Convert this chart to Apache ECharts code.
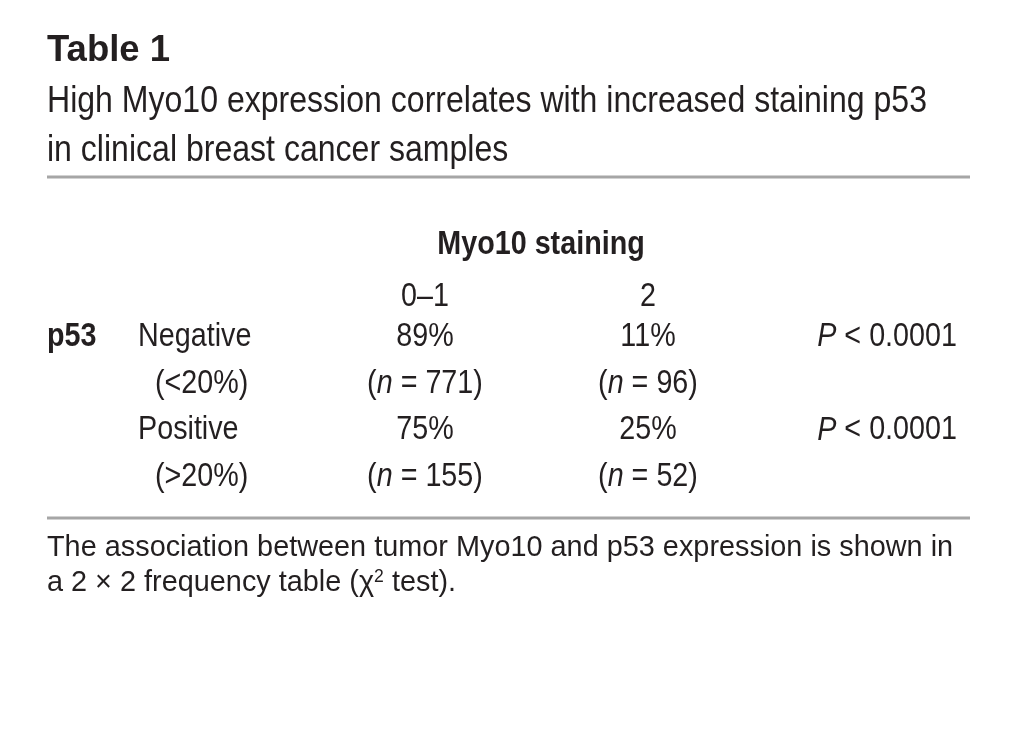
<!DOCTYPE html>
<html><head><meta charset="utf-8">
<script src="https://cdn.jsdelivr.net/npm/echarts@6/dist/echarts.min.js"></script>
<style>html,body{margin:0;padding:0;background:#fff}#c{width:1018px;height:729px}</style>
</head><body><div id="c"></div>
<script>
// ---- data ----
const tableTitle = 'Table 1';
const subtitleLines = ['High Myo10 expression correlates with increased staining p53', 'in clinical breast cancer samples'];
const columnGroup = 'Myo10 staining';
const columnKeys = ['label', '0–1', '2', 'P'];
const columnHeaders = ['', '0–1', '2', ''];
const rowGroup = 'p53';
const rowKeys = ['neg', 'negRange', 'pos', 'posRange'];
const rowLabels = ['Negative', '(<20%)', 'Positive', '(>20%)'];
const pctLow = [89, 75];     // Myo10 0–1
const pctHigh = [11, 25];    // Myo10 2
const nLow = [771, 155];
const nHigh = [96, 52];
const pValues = ['0.0001', '0.0001'];
const footnoteLines = ['The association between tumor Myo10 and p53 expression is shown in', 'a 2 × 2 frequency table ({chi|χ}{sup|2} test).'];

// ---- layout / style ----
const SANS = "'Liberation Sans',Arial,Helvetica,sans-serif";
const INK = '#231f20';
const BODY = 34, SX = 0.845;          // condensed look: horizontal squeeze
const ruleColor = '#a6a6a6';
const font = (w, s, f) => (w ? w + ' ' : '') + s + 'px ' + (f || SANS);

// build cell records from the data arrays: [colIndex, rowIndex, text, kind]
const cells = [];
columnHeaders.forEach((h, c) => { if (h) cells.push([c, 0, h, 'header']); });
cells.push([0, 0, rowGroup, 'group']);
rowLabels.forEach((r, i) => cells.push([0, i, r, i % 2 ? 'sub' : 'row']));
for (let g = 0; g < 2; g++) {
  cells.push([1, 2 * g, pctLow[g] + '%', 'cell']);
  cells.push([1, 2 * g + 1, '({i|n} = ' + nLow[g] + ')', 'cell']);
  cells.push([2, 2 * g, pctHigh[g] + '%', 'cell']);
  cells.push([2, 2 * g + 1, '({i|n} = ' + nHigh[g] + ')', 'cell']);
  cells.push([3, 2 * g, '{i|P} < ' + pValues[g], 'p']);
}

const rich = { i: { font: 'italic ' + BODY + 'px ' + SANS, fill: INK } };

function renderItem(params, api) {
  const c = api.value(0), r = api.value(1);
  const kind = cells[params.dataIndex][3];
  const text = cells[params.dataIndex][2];
  const pt = api.coord([c, r]);
  const band = api.size([1, 1]);
  let x = pt[0], y = pt[1], align = 'center', weight = '';
  if (kind === 'header') { y = pt[1] - band[1] * 0.87; }
  else if (kind === 'row') { x = pt[0] - band[0] / 2 + 47.5; align = 'left'; }
  else if (kind === 'sub') { x = pt[0] - band[0] / 2 + 64.5; align = 'left'; }
  else if (kind === 'group') { x = pt[0] - band[0] / 2 - 43.5; align = 'left'; weight = 'bold'; }
  else if (kind === 'p') { x = pt[0] + band[0] / 2 - 25.5; align = 'right'; }
  return {
    type: 'text', x: x, y: y, scaleX: SX, scaleY: 1,
    style: { x: 0, y: 0, text: text, font: font(weight, BODY), fill: INK, align: align, verticalAlign: 'middle', rich: rich }
  };
}

const chart = echarts.init(document.getElementById('c'), null, { renderer: 'canvas' });
chart.setOption({
  backgroundColor: '#fff',
  animation: false,
  grid: { left: 90.5, right: 35.5, top: 313.5, bottom: 229 },
  xAxis: { type: 'category', data: columnKeys, show: false },
  yAxis: { type: 'category', inverse: true, data: rowKeys, show: false },
  series: [{
    type: 'custom', renderItem: renderItem, data: cells.map(d => [d[0], d[1]]),
    encode: { x: 0, y: 1 }, silent: true
  }],
  graphic: [
    { type: 'text', x: 47, y: 51, style: { text: tableTitle, font: font('bold', 36.5), fill: INK, verticalAlign: 'middle' } },
    { type: 'text', x: 47, y: 101.5, scaleX: 0.878, style: { text: subtitleLines[0], font: font('', 36.5), fill: INK, verticalAlign: 'middle' } },
    { type: 'text', x: 47, y: 151, scaleX: 0.878, style: { text: subtitleLines[1], font: font('', 36.5), fill: INK, verticalAlign: 'middle' } },
    { type: 'rect', shape: { x: 47, y: 175.5, width: 923, height: 3 }, style: { fill: ruleColor } },
    { type: 'text', x: 541, y: 245, scaleX: SX, style: { text: columnGroup, font: font('bold', BODY), fill: INK, align: 'center', verticalAlign: 'middle' } },
    { type: 'rect', shape: { x: 47, y: 516.5, width: 923, height: 3 }, style: { fill: ruleColor } },
    { type: 'text', x: 47, y: 548, scaleX: 0.978, style: { text: footnoteLines[0], font: font('', 29.5), fill: INK, verticalAlign: 'middle' } },
    { type: 'text', x: 47, y: 583, scaleX: 0.978, style: { text: footnoteLines[1], font: font('', 29.5), fill: INK, verticalAlign: 'middle',
        rich: { chi: { font: font('', 29.5), fill: INK }, sup: { font: font('', 18), fill: INK, verticalAlign: 'top', padding: [0, 0, 12, 0] } } } }
  ]
});
</script></body></html>
